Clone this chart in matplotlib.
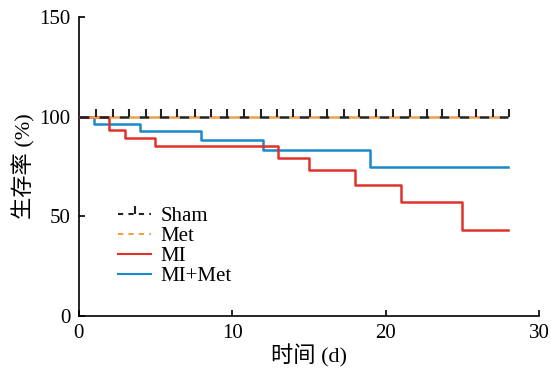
import numpy as np
import matplotlib
matplotlib.use('Agg')
import matplotlib.pyplot as plt
from matplotlib.lines import Line2D

plt.rcParams['font.family'] = ['Liberation Serif', 'Noto Sans CJK SC']

# survival curves (days, %)
mi_t = [0, 2, 3, 5, 13, 15, 18, 21, 25, 28]
mi_s = [100, 93.3, 89.3, 85.1, 79.2, 73.4, 65.8, 57.4, 43.2, 43.2]
mimet_t = [0, 1, 4, 8, 12, 19, 28]
mimet_s = [100, 96.3, 92.6, 88.4, 83.4, 74.5, 74.5]
sham_t = [0, 28]
sham_s = [100, 100]
met_t = [0, 28]
met_s = [100, 100]
# censor marks on Sham
cens_t = [1.1, 2.2, 3.3, 4.35, 5.35, 6.4, 7.6, 8.65, 9.65, 10.75, 11.9, 12.9,
          13.95, 15.1, 16.2, 17.3, 18.3, 19.4, 20.5, 21.6, 22.7, 23.7, 24.8,
          25.9, 27.0, 28.05]

c_red = '#e0322a'
c_blue = '#1b88cc'
c_orange = '#f0a04a'

fig = plt.figure(figsize=(5.51, 3.77), dpi=100)
ax = fig.add_axes([0.143, 0.162, 0.835, 0.793])

ax.step(mimet_t, mimet_s, where='post', color=c_blue, lw=1.8, zorder=2)
ax.step(mi_t, mi_s, where='post', color=c_red, lw=1.8, zorder=3)
ax.plot(sham_t, sham_s, color='#222222', lw=1.8, ls=(0, (4, 4)), zorder=4)
ax.plot(cens_t, [100] * len(cens_t), ls='none', marker=2, ms=6, mew=1.5,
        color='#222222', zorder=5)
ax.plot(met_t, met_s, color=c_orange, lw=1.8, ls=(4, (4, 4)), zorder=4)

handles = [
    Line2D([], [], color='#222222', ls=(0, (2.5, 2.5)), lw=1.5, marker=2, ms=6, mew=1.5),
    Line2D([], [], color=c_orange, ls=(0, (2.5, 2.5)), lw=1.5),
    Line2D([], [], color=c_red, lw=1.5),
    Line2D([], [], color=c_blue, lw=1.5),
]
ax.legend(handles, ['Sham', 'Met', 'MI', 'MI+Met'], loc='upper left',
          bbox_to_anchor=(0.067, 0.393), frameon=False, fontsize=15,
          handlelength=1.6, handletextpad=0.45, labelspacing=0.02,
          borderaxespad=0)

ax.set_xlim(0, 30)
ax.set_ylim(0, 150)
ax.set_xticks([0, 10, 20, 30])
ax.set_yticks([0, 50, 100, 150])
ax.spines['top'].set_visible(False)
ax.spines['right'].set_visible(False)
ax.spines['left'].set_linewidth(1.2)
ax.spines['bottom'].set_linewidth(1.2)
ax.tick_params(direction='in', length=4, width=1.2, labelsize=15, pad=6)
ax.set_xlabel('时间 (d)', fontsize=16, labelpad=1)
ax.set_ylabel('生存率 (%)', fontsize=16, labelpad=3)

fig.savefig('out.png', dpi=100)
